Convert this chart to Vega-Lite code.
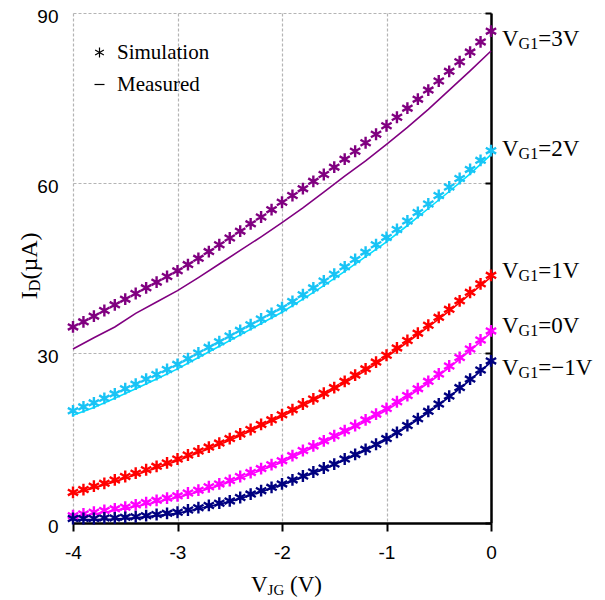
{
"$schema": "https://vega.github.io/schema/vega-lite/v6.json",
"autosize": {"type": "none"},
"width": 418, "height": 510,
"padding": {"left": 73, "top": 13, "right": 114, "bottom": 77},
"background": "white",
"config": {"view": {"stroke": null}, "legend": {"labelFont": "Liberation Serif", "labelFontSize": 21}},
"resolve": {"axis": {"y": "independent"}, "scale": {"color": "independent"}},
"datasets": {
"sim": [
{"c":"3V","x":-4,"y":34.6},{"c":"3V","x":-3.9,"y":35.5},{"c":"3V","x":-3.8,"y":36.5},{"c":"3V","x":-3.7,"y":37.5},{"c":"3V","x":-3.6,"y":38.5},{"c":"3V","x":-3.5,"y":39.5},{"c":"3V","x":-3.4,"y":40.5},{"c":"3V","x":-3.3,"y":41.5},{"c":"3V","x":-3.2,"y":42.5},{"c":"3V","x":-3.1,"y":43.5},{"c":"3V","x":-3,"y":44.5},{"c":"3V","x":-2.9,"y":45.6},{"c":"3V","x":-2.8,"y":46.7},{"c":"3V","x":-2.7,"y":47.9},{"c":"3V","x":-2.6,"y":49.1},{"c":"3V","x":-2.5,"y":50.3},{"c":"3V","x":-2.4,"y":51.5},{"c":"3V","x":-2.3,"y":52.8},{"c":"3V","x":-2.2,"y":54.0},{"c":"3V","x":-2.1,"y":55.3},{"c":"3V","x":-2,"y":56.6},{"c":"3V","x":-1.9,"y":57.8},{"c":"3V","x":-1.8,"y":59.0},{"c":"3V","x":-1.7,"y":60.3},{"c":"3V","x":-1.6,"y":61.5},{"c":"3V","x":-1.5,"y":62.8},{"c":"3V","x":-1.4,"y":64.2},{"c":"3V","x":-1.3,"y":65.6},{"c":"3V","x":-1.2,"y":67.1},{"c":"3V","x":-1.1,"y":68.6},{"c":"3V","x":-1,"y":70.1},{"c":"3V","x":-0.9,"y":71.6},{"c":"3V","x":-0.8,"y":73.2},{"c":"3V","x":-0.7,"y":74.8},{"c":"3V","x":-0.6,"y":76.4},{"c":"3V","x":-0.5,"y":78.0},{"c":"3V","x":-0.4,"y":79.7},{"c":"3V","x":-0.3,"y":81.4},{"c":"3V","x":-0.2,"y":83.1},{"c":"3V","x":-0.1,"y":84.9},{"c":"3V","x":0,"y":86.8},
{"c":"2V","x":-4,"y":19.8},{"c":"2V","x":-3.9,"y":20.5},{"c":"2V","x":-3.8,"y":21.2},{"c":"2V","x":-3.7,"y":22.0},{"c":"2V","x":-3.6,"y":22.8},{"c":"2V","x":-3.5,"y":23.7},{"c":"2V","x":-3.4,"y":24.5},{"c":"2V","x":-3.3,"y":25.4},{"c":"2V","x":-3.2,"y":26.2},{"c":"2V","x":-3.1,"y":27.1},{"c":"2V","x":-3,"y":28.0},{"c":"2V","x":-2.9,"y":29.0},{"c":"2V","x":-2.8,"y":30.0},{"c":"2V","x":-2.7,"y":31.0},{"c":"2V","x":-2.6,"y":32.0},{"c":"2V","x":-2.5,"y":33.0},{"c":"2V","x":-2.4,"y":34.0},{"c":"2V","x":-2.3,"y":35.0},{"c":"2V","x":-2.2,"y":36.0},{"c":"2V","x":-2.1,"y":37.0},{"c":"2V","x":-2,"y":38.0},{"c":"2V","x":-1.9,"y":39.1},{"c":"2V","x":-1.8,"y":40.3},{"c":"2V","x":-1.7,"y":41.5},{"c":"2V","x":-1.6,"y":42.7},{"c":"2V","x":-1.5,"y":43.9},{"c":"2V","x":-1.4,"y":45.2},{"c":"2V","x":-1.3,"y":46.5},{"c":"2V","x":-1.2,"y":47.8},{"c":"2V","x":-1.1,"y":49.1},{"c":"2V","x":-1,"y":50.4},{"c":"2V","x":-0.9,"y":51.8},{"c":"2V","x":-0.8,"y":53.3},{"c":"2V","x":-0.7,"y":54.8},{"c":"2V","x":-0.6,"y":56.3},{"c":"2V","x":-0.5,"y":57.8},{"c":"2V","x":-0.4,"y":59.3},{"c":"2V","x":-0.3,"y":60.8},{"c":"2V","x":-0.2,"y":62.4},{"c":"2V","x":-0.1,"y":64.0},{"c":"2V","x":0,"y":65.7},
{"c":"1V","x":-4,"y":5.4},{"c":"1V","x":-3.9,"y":5.9},{"c":"1V","x":-3.8,"y":6.5},{"c":"1V","x":-3.7,"y":7.0},{"c":"1V","x":-3.6,"y":7.6},{"c":"1V","x":-3.5,"y":8.2},{"c":"1V","x":-3.4,"y":8.8},{"c":"1V","x":-3.3,"y":9.4},{"c":"1V","x":-3.2,"y":10.0},{"c":"1V","x":-3.1,"y":10.6},{"c":"1V","x":-3,"y":11.3},{"c":"1V","x":-2.9,"y":12.0},{"c":"1V","x":-2.8,"y":12.7},{"c":"1V","x":-2.7,"y":13.4},{"c":"1V","x":-2.6,"y":14.1},{"c":"1V","x":-2.5,"y":14.9},{"c":"1V","x":-2.4,"y":15.7},{"c":"1V","x":-2.3,"y":16.5},{"c":"1V","x":-2.2,"y":17.4},{"c":"1V","x":-2.1,"y":18.2},{"c":"1V","x":-2,"y":19.1},{"c":"1V","x":-1.9,"y":20.0},{"c":"1V","x":-1.8,"y":21.0},{"c":"1V","x":-1.7,"y":21.9},{"c":"1V","x":-1.6,"y":22.9},{"c":"1V","x":-1.5,"y":23.9},{"c":"1V","x":-1.4,"y":25.0},{"c":"1V","x":-1.3,"y":26.1},{"c":"1V","x":-1.2,"y":27.2},{"c":"1V","x":-1.1,"y":28.4},{"c":"1V","x":-1,"y":29.6},{"c":"1V","x":-0.9,"y":30.9},{"c":"1V","x":-0.8,"y":32.2},{"c":"1V","x":-0.7,"y":33.5},{"c":"1V","x":-0.6,"y":34.9},{"c":"1V","x":-0.5,"y":36.3},{"c":"1V","x":-0.4,"y":37.7},{"c":"1V","x":-0.3,"y":39.2},{"c":"1V","x":-0.2,"y":40.7},{"c":"1V","x":-0.1,"y":42.2},{"c":"1V","x":0,"y":43.7},
{"c":"0V","x":-4,"y":1.3},{"c":"0V","x":-3.9,"y":1.6},{"c":"0V","x":-3.8,"y":1.9},{"c":"0V","x":-3.7,"y":2.2},{"c":"0V","x":-3.6,"y":2.5},{"c":"0V","x":-3.5,"y":2.8},{"c":"0V","x":-3.4,"y":3.2},{"c":"0V","x":-3.3,"y":3.6},{"c":"0V","x":-3.2,"y":4.0},{"c":"0V","x":-3.1,"y":4.4},{"c":"0V","x":-3,"y":4.8},{"c":"0V","x":-2.9,"y":5.3},{"c":"0V","x":-2.8,"y":5.8},{"c":"0V","x":-2.7,"y":6.4},{"c":"0V","x":-2.6,"y":6.9},{"c":"0V","x":-2.5,"y":7.5},{"c":"0V","x":-2.4,"y":8.2},{"c":"0V","x":-2.3,"y":8.9},{"c":"0V","x":-2.2,"y":9.6},{"c":"0V","x":-2.1,"y":10.3},{"c":"0V","x":-2,"y":11.0},{"c":"0V","x":-1.9,"y":11.9},{"c":"0V","x":-1.8,"y":12.8},{"c":"0V","x":-1.7,"y":13.6},{"c":"0V","x":-1.6,"y":14.5},{"c":"0V","x":-1.5,"y":15.4},{"c":"0V","x":-1.4,"y":16.3},{"c":"0V","x":-1.3,"y":17.2},{"c":"0V","x":-1.2,"y":18.2},{"c":"0V","x":-1.1,"y":19.2},{"c":"0V","x":-1,"y":20.2},{"c":"0V","x":-0.9,"y":21.4},{"c":"0V","x":-0.8,"y":22.5},{"c":"0V","x":-0.7,"y":23.7},{"c":"0V","x":-0.6,"y":25.0},{"c":"0V","x":-0.5,"y":26.3},{"c":"0V","x":-0.4,"y":27.7},{"c":"0V","x":-0.3,"y":29.2},{"c":"0V","x":-0.2,"y":30.7},{"c":"0V","x":-0.1,"y":32.3},{"c":"0V","x":0,"y":33.9},
{"c":"-1V","x":-4,"y":0.8},{"c":"-1V","x":-3.9,"y":0.8},{"c":"-1V","x":-3.8,"y":0.8},{"c":"-1V","x":-3.7,"y":0.9},{"c":"-1V","x":-3.6,"y":0.9},{"c":"-1V","x":-3.5,"y":1.0},{"c":"-1V","x":-3.4,"y":1.1},{"c":"-1V","x":-3.3,"y":1.3},{"c":"-1V","x":-3.2,"y":1.5},{"c":"-1V","x":-3.1,"y":1.7},{"c":"-1V","x":-3,"y":1.9},{"c":"-1V","x":-2.9,"y":2.3},{"c":"-1V","x":-2.8,"y":2.7},{"c":"-1V","x":-2.7,"y":3.1},{"c":"-1V","x":-2.6,"y":3.5},{"c":"-1V","x":-2.5,"y":3.9},{"c":"-1V","x":-2.4,"y":4.5},{"c":"-1V","x":-2.3,"y":5.1},{"c":"-1V","x":-2.2,"y":5.7},{"c":"-1V","x":-2.1,"y":6.3},{"c":"-1V","x":-2,"y":6.9},{"c":"-1V","x":-1.9,"y":7.6},{"c":"-1V","x":-1.8,"y":8.3},{"c":"-1V","x":-1.7,"y":9.0},{"c":"-1V","x":-1.6,"y":9.7},{"c":"-1V","x":-1.5,"y":10.4},{"c":"-1V","x":-1.4,"y":11.3},{"c":"-1V","x":-1.3,"y":12.1},{"c":"-1V","x":-1.2,"y":13.0},{"c":"-1V","x":-1.1,"y":13.9},{"c":"-1V","x":-1,"y":14.9},{"c":"-1V","x":-0.9,"y":16.0},{"c":"-1V","x":-0.8,"y":17.2},{"c":"-1V","x":-0.7,"y":18.4},{"c":"-1V","x":-0.6,"y":19.7},{"c":"-1V","x":-0.5,"y":21.0},{"c":"-1V","x":-0.4,"y":22.4},{"c":"-1V","x":-0.3,"y":23.9},{"c":"-1V","x":-0.2,"y":25.4},{"c":"-1V","x":-0.1,"y":27.0},{"c":"-1V","x":0,"y":28.6}
],
"meas": [
{"c":"3V","x":-4,"y":30.7},{"c":"3V","x":-3.8,"y":32.7},{"c":"3V","x":-3.6,"y":34.6},{"c":"3V","x":-3.4,"y":37.0},{"c":"3V","x":-3.2,"y":39.0},{"c":"3V","x":-3,"y":41.0},{"c":"3V","x":-2.8,"y":43.3},{"c":"3V","x":-2.6,"y":45.7},{"c":"3V","x":-2.4,"y":48.1},{"c":"3V","x":-2.2,"y":50.5},{"c":"3V","x":-2,"y":53.0},{"c":"3V","x":-1.8,"y":55.6},{"c":"3V","x":-1.6,"y":58.4},{"c":"3V","x":-1.4,"y":61.2},{"c":"3V","x":-1.2,"y":63.9},{"c":"3V","x":-1,"y":66.8},{"c":"3V","x":-0.8,"y":69.8},{"c":"3V","x":-0.6,"y":73.0},{"c":"3V","x":-0.4,"y":76.4},{"c":"3V","x":-0.2,"y":79.8},{"c":"3V","x":0,"y":83.3},
{"c":"2V","x":-4,"y":19.0},{"c":"2V","x":-3.8,"y":20.4},{"c":"2V","x":-3.6,"y":22.0},{"c":"2V","x":-3.4,"y":23.7},{"c":"2V","x":-3.2,"y":25.4},{"c":"2V","x":-3,"y":27.2},{"c":"2V","x":-2.8,"y":29.2},{"c":"2V","x":-2.6,"y":31.2},{"c":"2V","x":-2.4,"y":33.2},{"c":"2V","x":-2.2,"y":35.2},{"c":"2V","x":-2,"y":37.2},{"c":"2V","x":-1.8,"y":39.5},{"c":"2V","x":-1.6,"y":41.9},{"c":"2V","x":-1.4,"y":44.4},{"c":"2V","x":-1.2,"y":47.0},{"c":"2V","x":-1,"y":49.6},{"c":"2V","x":-0.8,"y":52.5},{"c":"2V","x":-0.6,"y":55.5},{"c":"2V","x":-0.4,"y":58.5},{"c":"2V","x":-0.2,"y":61.6},{"c":"2V","x":0,"y":65.0},
{"c":"1V","x":-4,"y":5.1},{"c":"1V","x":-3.8,"y":6.2},{"c":"1V","x":-3.6,"y":7.3},{"c":"1V","x":-3.4,"y":8.5},{"c":"1V","x":-3.2,"y":9.7},{"c":"1V","x":-3,"y":11.0},{"c":"1V","x":-2.8,"y":12.4},{"c":"1V","x":-2.6,"y":13.8},{"c":"1V","x":-2.4,"y":15.4},{"c":"1V","x":-2.2,"y":17.1},{"c":"1V","x":-2,"y":18.8},{"c":"1V","x":-1.8,"y":20.7},{"c":"1V","x":-1.6,"y":22.6},{"c":"1V","x":-1.4,"y":24.7},{"c":"1V","x":-1.2,"y":26.9},{"c":"1V","x":-1,"y":29.3},{"c":"1V","x":-0.8,"y":31.9},{"c":"1V","x":-0.6,"y":34.6},{"c":"1V","x":-0.4,"y":37.4},{"c":"1V","x":-0.2,"y":40.4},{"c":"1V","x":0,"y":43.4},
{"c":"0V","x":-4,"y":1.0},{"c":"0V","x":-3.8,"y":1.6},{"c":"0V","x":-3.6,"y":2.2},{"c":"0V","x":-3.4,"y":2.9},{"c":"0V","x":-3.2,"y":3.7},{"c":"0V","x":-3,"y":4.5},{"c":"0V","x":-2.8,"y":5.5},{"c":"0V","x":-2.6,"y":6.6},{"c":"0V","x":-2.4,"y":7.9},{"c":"0V","x":-2.2,"y":9.3},{"c":"0V","x":-2,"y":10.7},{"c":"0V","x":-1.8,"y":12.5},{"c":"0V","x":-1.6,"y":14.2},{"c":"0V","x":-1.4,"y":16.0},{"c":"0V","x":-1.2,"y":17.9},{"c":"0V","x":-1,"y":19.9},{"c":"0V","x":-0.8,"y":22.2},{"c":"0V","x":-0.6,"y":24.7},{"c":"0V","x":-0.4,"y":27.4},{"c":"0V","x":-0.2,"y":30.4},{"c":"0V","x":0,"y":33.6},
{"c":"-1V","x":-4,"y":0.6},{"c":"-1V","x":-3.8,"y":0.6},{"c":"-1V","x":-3.6,"y":0.7},{"c":"-1V","x":-3.4,"y":0.9},{"c":"-1V","x":-3.2,"y":1.3},{"c":"-1V","x":-3,"y":1.7},{"c":"-1V","x":-2.8,"y":2.5},{"c":"-1V","x":-2.6,"y":3.3},{"c":"-1V","x":-2.4,"y":4.3},{"c":"-1V","x":-2.2,"y":5.5},{"c":"-1V","x":-2,"y":6.7},{"c":"-1V","x":-1.8,"y":8.1},{"c":"-1V","x":-1.6,"y":9.5},{"c":"-1V","x":-1.4,"y":11.1},{"c":"-1V","x":-1.2,"y":12.8},{"c":"-1V","x":-1,"y":14.7},{"c":"-1V","x":-0.8,"y":17.0},{"c":"-1V","x":-0.6,"y":19.5},{"c":"-1V","x":-0.4,"y":22.2},{"c":"-1V","x":-0.2,"y":25.2},{"c":"-1V","x":0,"y":28.4}
],
"lab": [
{"c":"3V","y":84.2,"r":"=3V"},{"c":"2V","y":64.8,"r":"=2V"},{"c":"1V","y":43.3,"r":"=1V"},{"c":"0V","y":33.6,"r":"=0V"},{"c":"-1V","y":26.1,"r":"=−1V"}
],
"one": [{"k": 1}]
},
"layer": [
{"data": {"name": "meas"},
 "mark": {"type": "line", "strokeWidth": 1.6},
 "encoding": {
  "x": {"field": "x", "type": "quantitative", "scale": {"domain": [-4, 0], "nice": false},
        "axis": {"values": [-4,-3,-2,-1,0], "title": null, "grid": true, "gridColor": "#b4b4b4", "gridDash": [3,2], "gridWidth": 1.2,
                 "domainColor": "black", "domainWidth": 2.5, "tickColor": "black", "tickWidth": 2, "tickSize": 8,
                 "labelFont": "Liberation Sans", "labelFontSize": 19, "labelColor": "black", "labelPadding": 12, "labelFlush": false,
                 "labelExpr": "datum.value + ''"}},
  "y": {"field": "y", "type": "quantitative", "scale": {"domain": [0, 90], "nice": false},
        "axis": {"values": [0,30,60,90], "title": null, "grid": true, "gridColor": "#b4b4b4", "gridDash": [3,2], "gridWidth": 1.2,
                 "domain": false, "ticks": false, "labelFont": "Liberation Sans", "labelFontSize": 19, "labelColor": "black",
                 "labelPadding": 15, "labelOffset": 3}},
  "color": {"field": "c", "type": "nominal", "legend": null,
            "scale": {"domain": ["3V","2V","1V","0V","-1V"], "range": ["#800080","#00E0FF","#FF0000","#FF00FF","#000080"]}},
  "detail": {"field": "c"}
 }},
{"data": {"name": "sim"},
 "mark": {"type": "point", "filled": false, "strokeWidth": 2.4, "size": 140, "opacity": 1},
 "encoding": {
  "x": {"field": "x", "type": "quantitative", "axis": {"title": null}},
  "y": {"field": "y", "type": "quantitative",
        "axis": {"orient": "right", "values": [0,30,60,90], "title": null, "grid": false, "labels": false,
                 "domainColor": "black", "domainWidth": 2.5, "tickColor": "black", "tickWidth": 2, "tickSize": -6}},
  "color": {"field": "c", "type": "nominal", "legend": null,
            "scale": {"domain": ["3V","2V","1V","0V","-1V"], "range": ["#800080","#19C3F5","#FF0000","#FF00FF","#000080"]}},
  "shape": {"datum": "Simulation", "type": "nominal",
            "scale": {"domain": ["Simulation","Measured"], "range": ["M0,-1L0,1M-0.87,-0.5L0.87,0.5M-0.87,0.5L0.87,-0.5", "stroke"]},
            "legend": {"orient": "none", "legendX": 16, "legendY": 29, "title": null, "padding": 0,
                       "labelFont": "Liberation Serif", "labelFontSize": 21, "labelColor": "black", "labelOffset": 7,
                       "symbolStrokeColor": "black", "symbolFillColor": "transparent", "symbolStrokeWidth": 1.2, "symbolSize": 100,
                       "rowPadding": 10,
                       "encode": {"labels": {"update": {"font": {"value": "Liberation Serif"}, "fontSize": {"value": 21}, "fill": {"value": "black"}}}}}}
 }},
{"data": {"name": "lab"},
 "mark": {"type": "text", "align": "left", "baseline": "alphabetic", "dx": 11, "font": "Liberation Serif", "fontSize": 23, "color": "black", "text": "V"},
 "encoding": {"x": {"datum": 0, "type": "quantitative"}, "y": {"field": "y", "type": "quantitative", "axis": null}}},
{"data": {"name": "lab"},
 "mark": {"type": "text", "align": "left", "baseline": "alphabetic", "dx": 27.6, "dy": 3, "font": "Liberation Serif", "fontSize": 16, "color": "black", "text": "G1"},
 "encoding": {"x": {"datum": 0, "type": "quantitative"}, "y": {"field": "y", "type": "quantitative", "axis": null}}},
{"data": {"name": "lab"},
 "mark": {"type": "text", "align": "left", "baseline": "alphabetic", "dx": 47.2, "font": "Liberation Serif", "fontSize": 23, "color": "black"},
 "encoding": {"x": {"datum": 0, "type": "quantitative"}, "y": {"field": "y", "type": "quantitative", "axis": null}, "text": {"field": "r"}}},
{"data": {"name": "one"},
 "mark": {"type": "text", "align": "left", "baseline": "alphabetic", "dx": -31, "dy": 69, "font": "Liberation Serif", "fontSize": 23, "color": "black", "text": "V"},
 "encoding": {"x": {"datum": -2, "type": "quantitative"}, "y": {"datum": 0, "type": "quantitative", "axis": null}}},
{"data": {"name": "one"},
 "mark": {"type": "text", "align": "left", "baseline": "alphabetic", "dx": -14.4, "dy": 72, "font": "Liberation Serif", "fontSize": 15, "color": "black", "text": "JG"},
 "encoding": {"x": {"datum": -2, "type": "quantitative"}, "y": {"datum": 0, "type": "quantitative", "axis": null}}},
{"data": {"name": "one"},
 "mark": {"type": "text", "align": "left", "baseline": "alphabetic", "dx": 8.1, "dy": 69, "font": "Liberation Serif", "fontSize": 23, "color": "black", "text": "(V)"},
 "encoding": {"x": {"datum": -2, "type": "quantitative"}, "y": {"datum": 0, "type": "quantitative", "axis": null}}},
{"data": {"name": "one"},
 "mark": {"type": "text", "align": "left", "baseline": "alphabetic", "angle": 270, "dx": 0, "dy": -36, "font": "Liberation Serif", "fontSize": 24, "color": "black", "text": "I"},
 "encoding": {"x": {"datum": -4, "type": "quantitative"}, "y": {"datum": 39.5, "type": "quantitative", "axis": null}}},
{"data": {"name": "one"},
 "mark": {"type": "text", "align": "left", "baseline": "alphabetic", "angle": 270, "dx": 8, "dy": -33, "font": "Liberation Serif", "fontSize": 16, "color": "black", "text": "D"},
 "encoding": {"x": {"datum": -4, "type": "quantitative"}, "y": {"datum": 39.5, "type": "quantitative", "axis": null}}},
{"data": {"name": "one"},
 "mark": {"type": "text", "align": "left", "baseline": "alphabetic", "angle": 270, "dx": 19.6, "dy": -36, "font": "Liberation Serif", "fontSize": 24, "color": "black", "text": "(µA)"},
 "encoding": {"x": {"datum": -4, "type": "quantitative"}, "y": {"datum": 39.5, "type": "quantitative", "axis": null}}}
]
}
